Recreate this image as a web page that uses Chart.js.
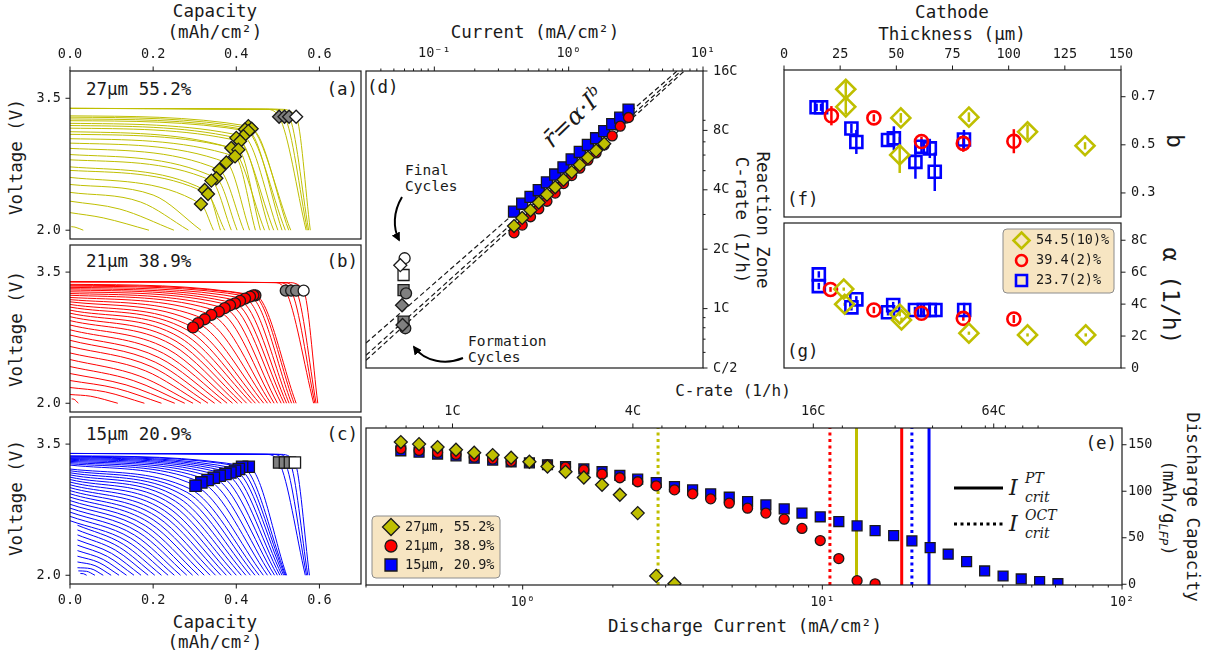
<!DOCTYPE html>
<html>
<head>
<meta charset="utf-8">
<title>Reaction zone and rate capability</title>
<script src="https://cdn.jsdelivr.net/npm/chart.js@4"></script>
<style>
  body { margin: 0; background: #fff; }
  #fig { position: relative; width: 1212px; height: 662px; overflow: hidden;
         font-family: 'DejaVu Sans Mono', monospace; color: #1a1a1a; }
  #fig canvas { position: absolute; }
  .t { position: absolute; white-space: nowrap; font-size: 17.5px; line-height: 1;
       transform: translate(-50%, -50%); }
  .l { transform: translate(0, -50%); }
  .r { transform: translate(-100%, -50%); }
  .v { transform: translate(-50%, -50%) rotate(90deg); }
  .u { transform: translate(-50%, -50%) rotate(-90deg); }
  .s { font-size: 14.5px; }
  .m { font-family: 'DejaVu Serif', serif; font-style: italic; }
  svg { position: absolute; left: 0; top: 0; z-index: 2; pointer-events: none; }
</style>
</head>
<body>
<div id="fig">
  <div class="t" style="left:215px;top:12px">Capacity</div>
  <div class="t" style="left:215px;top:33px">(mAh/cm²)</div>
  <div class="t u" style="left:17px;top:157px">Voltage (V)</div>
  <div class="t u" style="left:17px;top:329px">Voltage (V)</div>
  <div class="t u" style="left:17px;top:498px">Voltage (V)</div>
  <div class="t l" style="left:86px;top:90px">27µm 55.2%</div>
  <div class="t r" style="left:358px;top:90px">(a)</div>
  <div class="t l" style="left:86px;top:262px">21µm 38.9%</div>
  <div class="t r" style="left:358px;top:262px">(b)</div>
  <div class="t l" style="left:86px;top:435px">15µm 20.9%</div>
  <div class="t r" style="left:358px;top:435px">(c)</div>
  <div class="t" style="left:215px;top:623px">Capacity</div>
  <div class="t" style="left:215px;top:643px">(mAh/cm²)</div>

  <div class="t" style="left:535px;top:33px">Current (mA/cm²)</div>
  <div class="t l" style="left:367px;top:88px">(d)</div>
  <div class="t l s" style="left:405px;top:170px">Final</div>
  <div class="t l s" style="left:405px;top:186px">Cycles</div>
  <div class="t l s" style="left:468px;top:341px">Formation</div>
  <div class="t l s" style="left:468px;top:357px">Cycles</div>
  <div class="t v" style="left:762px;top:220px">Reaction Zone</div>
  <div class="t v" style="left:741px;top:220px">C-rate (1/h)</div>
  <div class="t m" style="left:573px;top:117px;font-size:24px;transform:translate(-50%,-50%) rotate(-44deg)">r̄=α·I<sup style="font-size:15px">b</sup></div>

  <div class="t" style="left:952px;top:13px">Cathode</div>
  <div class="t" style="left:952px;top:35px">Thickness (µm)</div>
  <div class="t v" style="left:1174px;top:141px;font-size:23px">b</div>
  <div class="t v" style="left:1170px;top:296px;font-size:23px">α (1/h)</div>
  <div class="t l" style="left:787px;top:200px">(f)</div>
  <div class="t l" style="left:787px;top:352px">(g)</div>

  <div class="t" style="left:733px;top:391px;font-size:16px">C-rate (1/h)</div>
  <div class="t" style="left:745px;top:627px">Discharge Current (mA/cm²)</div>
  <div class="t r" style="left:1117px;top:444px">(e)</div>
  <div class="t v" style="left:1192px;top:507px">Discharge Capacity</div>
  <div class="t v" style="left:1167px;top:508px">(mAh/g<sub style="font-size:12px;font-style:italic">LFP</sub>)</div>
  <div class="t l m" style="left:1009px;top:488px;font-size:22px">I</div>
  <div class="t l m" style="left:1025px;top:478px;font-size:14px">PT</div>
  <div class="t l m" style="left:1025px;top:497px;font-size:14px">crit</div>
  <div class="t l m" style="left:1009px;top:524px;font-size:22px">I</div>
  <div class="t l m" style="left:1025px;top:515px;font-size:14px">OCT</div>
  <div class="t l m" style="left:1025px;top:533px;font-size:14px">crit</div>

  <svg width="1212" height="662">
    <defs>
      <marker id="ah" viewBox="0 0 10 10" refX="8" refY="5" markerWidth="9" markerHeight="9"
              markerUnits="userSpaceOnUse" orient="auto">
        <path d="M0,0 L10,5 L0,10 z" fill="#000"/>
      </marker>
    </defs>
    <path d="M402,197 C393,212 393,228 399,240" stroke="#000" stroke-width="2" fill="none" marker-end="url(#ah)"/>
    <path d="M463,358 C446,365 425,362 414,347" stroke="#000" stroke-width="2" fill="none" marker-end="url(#ah)"/>
  </svg>
</div>

<script>
const ink = '#1a1a1a';
const olive = '#bfbf00', red = '#ff0000', blue = '#0000ff', grey = '#808080';
const tickFont = { family: 'DejaVu Sans Mono', size: 13.5 };

// ---- panels a-c: discharge curves ----
const cutoffV = 2.0;
const capTicks = [0, 0.2, 0.4, 0.6];
const voltTicks = [2.0, 3.5];

// [start capacity, start V, knee capacity, knee V, end capacity]
const cellA = [
  [0, 3.300, 0.429, 3.183, 0.531], [0, 3.285, 0.437, 3.153, 0.526], [0, 3.265, 0.421, 3.145, 0.518],
  [0, 3.245, 0.429, 3.126, 0.510], [0, 3.215, 0.417, 3.069, 0.500], [0, 3.190, 0.400, 3.050, 0.490],
  [0, 3.160, 0.409, 3.011, 0.480], [0, 3.120, 0.388, 2.935, 0.468], [0, 3.090, 0.405, 2.916, 0.458],
  [0, 3.040, 0.397, 2.839, 0.446], [0, 2.990, 0.376, 2.770, 0.432], [0, 2.930, 0.359, 2.687, 0.418],
  [0, 2.860, 0.352, 2.591, 0.402], [0, 2.800, 0.340, 2.564, 0.388], [0, 2.720, 0.324, 2.458, 0.372],
  [0, 2.680, 0.332, 2.412, 0.362], [0, 2.600, 0.315, 2.297, 0.345], [0, 2.520, 0.200, 2.400, 0.315],
  [0, 2.430, 0.170, 2.320, 0.285], [0, 2.330, 0.120, 2.240, 0.250], [0, 2.200, 0.080, 2.140, 0.190],
  [0.003, 2.040, 0.012, 2.035, 0.032]
];
const markedA = 17;

const cellB = [
  [0, 3.360, 0.446, 3.234, 0.544], [0, 3.350, 0.441, 3.234, 0.539], [0, 3.340, 0.433, 3.219, 0.533],
  [0, 3.325, 0.421, 3.197, 0.527], [0, 3.310, 0.409, 3.170, 0.521], [0, 3.295, 0.397, 3.143, 0.515],
  [0, 3.275, 0.385, 3.121, 0.508], [0, 3.255, 0.372, 3.087, 0.499], [0, 3.235, 0.358, 3.049, 0.491],
  [0, 3.210, 0.340, 3.011, 0.483], [0, 3.185, 0.324, 2.961, 0.475], [0, 3.160, 0.308, 2.916, 0.466],
  [0, 3.130, 0.296, 2.867, 0.456],
  [0, 3.100, 0.285, 2.830, 0.446], [0, 3.065, 0.275, 2.790, 0.437], [0, 3.030, 0.265, 2.750, 0.425],
  [0, 2.990, 0.255, 2.710, 0.414], [0, 2.945, 0.245, 2.670, 0.403], [0, 2.895, 0.235, 2.620, 0.391],
  [0, 2.840, 0.225, 2.570, 0.378], [0, 2.780, 0.215, 2.520, 0.364], [0, 2.720, 0.205, 2.470, 0.348],
  [0, 2.650, 0.195, 2.420, 0.332], [0, 2.575, 0.182, 2.370, 0.315], [0, 2.500, 0.168, 2.310, 0.296],
  [0, 2.420, 0.152, 2.260, 0.276], [0, 2.340, 0.135, 2.210, 0.252], [0, 2.260, 0.112, 2.170, 0.220],
  [0, 2.180, 0.085, 2.130, 0.179], [0, 2.100, 0.050, 2.080, 0.115], [0.004, 2.050, 0.010, 2.045, 0.020]
];
const markedB = 13;

const cellC = [
  [0, 3.366, 0.430, 3.241, 0.521], [0, 3.360, 0.414, 3.241, 0.519], [0, 3.352, 0.406, 3.215, 0.517],
  [0, 3.344, 0.397, 3.195, 0.514], [0, 3.335, 0.386, 3.176, 0.510], [0, 3.325, 0.374, 3.158, 0.505],
  [0, 3.314, 0.360, 3.138, 0.499], [0, 3.302, 0.346, 3.115, 0.492], [0, 3.289, 0.331, 3.089, 0.484],
  [0, 3.275, 0.316, 3.062, 0.475], [0, 3.260, 0.302, 3.024, 0.465],
  [0, 3.215, 0.290, 2.985, 0.455], [0, 3.195, 0.281, 2.950, 0.445], [0, 3.172, 0.272, 2.915, 0.434],
  [0, 3.148, 0.263, 2.880, 0.423], [0, 3.122, 0.254, 2.845, 0.412], [0, 3.095, 0.245, 2.810, 0.400],
  [0, 3.066, 0.236, 2.775, 0.388], [0, 3.035, 0.227, 2.740, 0.376], [0, 3.002, 0.218, 2.705, 0.363],
  [0, 2.968, 0.209, 2.670, 0.350], [0, 2.932, 0.200, 2.635, 0.337], [0, 2.894, 0.191, 2.600, 0.323],
  [0, 2.854, 0.182, 2.565, 0.309], [0, 2.812, 0.173, 2.530, 0.295], [0, 2.768, 0.164, 2.495, 0.281],
  [0, 2.722, 0.155, 2.460, 0.266], [0, 2.674, 0.146, 2.425, 0.251], [0, 2.624, 0.137, 2.390, 0.236],
  [0.018, 2.572, 0.128, 2.355, 0.220], [0.018, 2.518, 0.119, 2.320, 0.204], [0.018, 2.462, 0.110, 2.285, 0.188],
  [0.018, 2.404, 0.100, 2.250, 0.171], [0.018, 2.344, 0.090, 2.215, 0.154], [0.018, 2.282, 0.080, 2.180, 0.136],
  [0.018, 2.218, 0.070, 2.145, 0.118], [0.018, 2.152, 0.060, 2.110, 0.099], [0.018, 2.086, 0.050, 2.075, 0.080],
  [0.020, 2.050, 0.040, 2.045, 0.060], [0.025, 2.020, 0.032, 2.018, 0.040]
];
const markedC = 11;

// formation / final cycles: [start V, plateau end capacity, plateau end V, marker capacity, marker V, end capacity]
const formA = [
  [3.385, 0.470, 3.375, 0.503, 3.290, 0.568], [3.385, 0.480, 3.375, 0.516, 3.290, 0.571],
  [3.385, 0.490, 3.375, 0.527, 3.290, 0.574], [3.385, 0.505, 3.375, 0.544, 3.290, 0.578]
];
const formB = [
  [3.390, 0.490, 3.380, 0.519, 3.288, 0.586], [3.390, 0.500, 3.380, 0.532, 3.288, 0.589],
  [3.390, 0.510, 3.380, 0.544, 3.288, 0.592], [3.390, 0.525, 3.380, 0.562, 3.288, 0.596]
];
const formC = [
  [3.393, 0.470, 3.383, 0.503, 3.290, 0.566], [3.393, 0.485, 3.383, 0.517, 3.290, 0.569],
  [3.393, 0.495, 3.383, 0.529, 3.290, 0.572], [3.393, 0.505, 3.383, 0.541, 3.290, 0.576]
];

// ---- panel d: reaction zone rate vs current ----
const currentTicksD = [0.1, 1, 10];
const currentMinorD = [0.04, 0.05, 0.06, 0.07, 0.08, 0.09, 0.2, 0.3, 0.4, 0.5, 0.6, 0.7, 0.8, 0.9, 2, 3, 4, 5, 6, 7, 8, 9];
const rateTicksD = [0.5, 1, 2, 4, 8, 16];
const rateMinorD = [0.6, 0.7, 0.8, 0.9, 3, 5, 6, 7, 9];
const currentD = [0.392, 0.451, 0.520, 0.599, 0.689, 0.794, 0.915, 1.053, 1.21, 1.39, 1.60, 1.84, 2.11, 2.42, 2.79];
const rateBlueD = [3.10, 3.40, 3.68, 3.98, 4.36, 4.78, 5.20, 5.70, 6.22, 6.75, 7.30, 7.94, 8.60, 9.28, 10.2];
const rateRedD = [2.42, 2.65, 2.92, 3.20, 3.50, 3.85, 4.30, 4.72, 5.15, 5.65, 6.15, 6.75, 7.50, 8.40, 9.30];
const rateYellowD = [2.62, 2.88, 3.15, 3.45, 3.78, 4.12, 4.50, 4.92, 5.35, 5.82, 6.32, 6.85];
// formation (filled) and final (open) cycles, [current, rate]
const formDiamondD = [[0.0575, 1.04], [0.058, 0.826]];
const formCircleD = [[0.0616, 1.195], [0.0608, 0.795]];
const formSquareD = [[0.059, 1.24], [0.059, 0.858]];
const finalD = [[0.0558, 1.66], [0.0601, 1.80], [0.059, 1.48]];
// fitted power laws, drawn edge to edge
const fitLinesD = [
  [[0.031, 0.669], [6.41, 16]],
  [[0.031, 0.580], [6.87, 16]],
  [[0.031, 0.547], [7.26, 16]]
];

// ---- panel e: discharge capacity vs current ----
const ratePerCurrent = 1.715; // C-rate per mA/cm²
const currentRangeE = [0.3, 100];
const capRangeE = [-0.8, 168];
const currentTicksE = [1, 10, 100];
const currentMinorE = [0.3, 0.4, 0.5, 0.6, 0.7, 0.8, 0.9, 2, 3, 4, 5, 6, 7, 8, 9, 20, 30, 40, 50, 60, 70, 80, 90];
const rateTicksE = [1, 4, 16, 64];
const rateMinorE = [0.6, 0.7, 0.8, 0.9, 2, 3, 5, 6, 7, 8, 9, 20, 30, 40, 50, 60, 70, 80, 90];
const capTicksE = [0, 50, 100, 150];
const currentY = [0.392, 0.451, 0.520, 0.599, 0.689, 0.794, 0.915, 1.053, 1.21, 1.39, 1.60, 1.84, 2.11, 2.42, 2.79, 3.21];
const capY = [152.9, 150.7, 147.5, 144.6, 141.4, 138.9, 136.0, 131.7, 126.6, 120.9, 114.8, 106.9, 96.2, 76.5, 9.0, 0.5];
const currentR = [0.392, 0.451, 0.520, 0.599, 0.689, 0.794, 0.915, 1.053, 1.21, 1.39, 1.60, 1.84, 2.11, 2.42,
  2.79, 3.21, 3.69, 4.24, 4.89, 5.63, 6.48, 7.46, 8.55, 9.84, 11.35, 13.06, 15.0];
const capR = [145.7, 143.9, 141.7, 139.6, 136.7, 134.6, 132.0, 131.0, 128.5, 126.0, 123.1, 118.4, 114.5, 110.2,
  105.8, 101.5, 97.2, 91.8, 87.2, 81.8, 76.5, 70.0, 60.0, 47.0, 27.6, 3.9, 0.5];
const currentB = [0.392, 0.451, 0.520, 0.599, 0.689, 0.794, 0.915, 1.053, 1.21, 1.39, 1.60, 1.84, 2.11, 2.42,
  2.79, 3.21, 3.69, 4.24, 4.89, 5.63, 6.48, 7.46, 8.55, 9.84, 11.35, 13.06, 15.0, 17.3, 19.9, 22.9, 26.3,
  30.3, 34.8, 40.1, 46.1, 53.1, 61.1];
const capB = [143.5, 142.0, 140.0, 138.0, 135.5, 133.5, 131.5, 130.5, 128.5, 126.5, 124.0, 121.0, 117.0, 113.0,
  109.4, 105.0, 101.5, 97.2, 93.6, 89.0, 85.4, 81.0, 76.5, 72.5, 67.4, 62.8, 57.7, 52.3, 46.6, 39.4, 32.3,
  24.3, 14.3, 8.9, 5.7, 2.8, 0.6];
// critical currents for 27, 21, 15 µm cells
const critPT = [13.0, 18.4, 22.7];
const critOCT = [2.83, 10.6, 19.9];
const legendE = ['27µm, 55.2%', '21µm, 38.9%', '15µm, 20.9%'];

// ---- panels f, g: fit parameters vs cathode thickness ----
const thickTicks = [0, 25, 50, 75, 100, 125, 150];
const bTicks = [0.3, 0.5, 0.7];
const alphaTicks = [0, 2, 4, 6, 8];
const thickYF = [27.5, 27.5, 52.0, 51.5, 82.3, 108.4, 134.0];
const bYF = [0.731, 0.658, 0.612, 0.458, 0.615, 0.554, 0.496];
const errYF = [0.03, 0.03, 0.02, 0.075, 0.02, 0.03, 0.015];
const thickRF = [21.1, 40.0, 61.2, 79.8, 102.3];
const bRF = [0.621, 0.612, 0.514, 0.506, 0.515];
const errRF = [0.04, 0.015, 0.02, 0.035, 0.05];
const thickBF = [14.5, 16.5, 30.0, 32.2, 46.3, 48.9, 58.5, 61.2, 64.9, 67.1, 80.1];
const bBF = [0.656, 0.656, 0.568, 0.512, 0.520, 0.527, 0.429, 0.492, 0.485, 0.388, 0.522];
const errBF = [0.015, 0.015, 0.02, 0.05, 0.02, 0.05, 0.07, 0.03, 0.04, 0.08, 0.04];
const thickYG = [26.6, 27.0, 51.5, 52.3, 82.3, 108.4, 134.3];
const aYG = [4.94, 3.99, 3.38, 3.01, 2.18, 2.07, 2.07];
const errYG = [0.1, 0.1, 0.15, 0.15, 0.1, 0.1, 0.1];
const thickRG = [20.7, 40.0, 61.2, 79.8, 102.3];
const aRG = [4.92, 3.63, 3.43, 3.11, 3.07];
const errRG = [0.15, 0.2, 0.15, 0.15, 0.25];
const thickBG = [15.5, 15.5, 30.0, 32.2, 46.3, 48.6, 58.3, 62.2, 64.9, 67.4, 80.2];
const aBG = [5.86, 5.13, 3.80, 4.30, 3.49, 3.94, 3.63, 3.63, 3.63, 3.63, 3.63];
const errBG = [0.2, 0.2, 0.2, 0.2, 0.2, 0.2, 0.2, 0.2, 0.2, 0.2, 0.45];
const legendG = ['54.5(10)%', '39.4(2)%', '23.7(2)%'];

// ---------- helpers ----------
const sideIndex = { left: 0, top: 1, right: 2, bottom: 3 };

function axis(o) {
  const s = {
    type: o.type || 'linear', position: o.pos, min: o.min, max: o.max, bounds: 'data',
    display: !!o.ticks,
    grid: { display: false, drawTicks: false },
    border: { display: false },
    ticks: { padding: o.pad || 8, font: tickFont, color: ink, autoSkip: false, maxRotation: 0,
             callback: o.fmt || (v => v) }
  };
  if (o.ticks) s.afterBuildTicks = sc => { sc.ticks = o.ticks.map(v => ({ value: v })); };
  return s;
}

function drawTicks(chart, marks) {
  const ctx = chart.ctx, a = chart.chartArea;
  ctx.strokeStyle = ink;
  ctx.lineWidth = 1;
  marks.forEach(([id, side, major, minor]) => {
    const s = chart.scales[id];
    const one = (v, len) => {
      const p = s.getPixelForValue(v);
      ctx.beginPath();
      if (side === 'top') { ctx.moveTo(p, a.top); ctx.lineTo(p, a.top - len); }
      else if (side === 'bottom') { ctx.moveTo(p, a.bottom); ctx.lineTo(p, a.bottom + len); }
      else if (side === 'left') { ctx.moveTo(a.left, p); ctx.lineTo(a.left - len, p); }
      else { ctx.moveTo(a.right, p); ctx.lineTo(a.right + len, p); }
      ctx.stroke();
    };
    major.forEach(v => one(v, 4.5));
    (minor || []).forEach(v => one(v, 2.5));
  });
}

const errorBars = {
  id: 'errorBars',
  beforeDatasetsDraw(chart) {
    const { ctx, chartArea: a } = chart;
    const x = chart.scales.x, y = chart.scales.y;
    ctx.save();
    ctx.beginPath();
    ctx.rect(a.left, a.top, a.right - a.left, a.bottom - a.top);
    ctx.clip();
    chart.data.datasets.forEach(ds => {
      if (!ds.errors) return;
      ctx.strokeStyle = ds.pointBorderColor;
      ctx.lineWidth = 2.5;
      ds.data.forEach((p, i) => {
        const px = x.getPixelForValue(p.x);
        ctx.beginPath();
        ctx.moveTo(px, y.getPixelForValue(p.y - ds.errors[i]));
        ctx.lineTo(px, y.getPixelForValue(p.y + ds.errors[i]));
        ctx.stroke();
      });
    });
    ctx.restore();
  }
};

function glyph(ctx, style, x, y, r, fill, stroke, lw) {
  ctx.beginPath();
  if (style === 'diamond') {
    ctx.moveTo(x, y - r); ctx.lineTo(x + r, y); ctx.lineTo(x, y + r); ctx.lineTo(x - r, y); ctx.closePath();
  } else if (style === 'circle') {
    ctx.arc(x, y, r, 0, Math.PI * 2);
  } else {
    ctx.rect(x - r, y - r, 2 * r, 2 * r);
  }
  if (fill) { ctx.fillStyle = fill; ctx.fill(); }
  ctx.lineWidth = lw;
  ctx.strokeStyle = stroke;
  ctx.stroke();
}

function legendPanel(ctx, o, box, items) {
  const x = box[0] - o[0], y = box[1] - o[1];
  ctx.beginPath();
  ctx.roundRect(x, y, box[2], box[3], 4);
  ctx.fillStyle = 'rgba(245,222,179,0.8)';
  ctx.fill();
  ctx.strokeStyle = '#8c8c8c';
  ctx.lineWidth = 1;
  ctx.stroke();
  items.forEach(it => {
    glyph(ctx, it.style, it.mx - o[0], it.y - o[1], it.r, it.fill, it.stroke, it.lw);
    ctx.font = '13.5px "DejaVu Sans Mono"';
    ctx.textBaseline = 'middle';
    ctx.textAlign = 'left';
    ctx.fillStyle = ink;
    ctx.fillText(it.label, it.tx - o[0], it.y - o[1]);
  });
}

// box = [left, top, right, bottom] of the plot frame on the page, m = canvas margins [l, t, r, b]
function panel(box, m, cfg) {
  const [l, t, r, b] = box;
  const c = document.createElement('canvas');
  c.width = r - l + m[0] + m[2];
  c.height = b - t + m[1] + m[3];
  c.style.left = (l - m[0]) + 'px';
  c.style.top = (t - m[1]) + 'px';
  document.getElementById('fig').appendChild(c);
  const origin = [l - m[0], t - m[1]];

  const padding = { left: m[0], top: m[1], right: m[2], bottom: m[3] };
  Object.values(cfg.scales).forEach(s => {
    if (!s.display) return;
    const size = m[sideIndex[s.position]];
    padding[s.position] = 0;
    s.afterFit = sc => { if (sc.isHorizontal()) sc.height = size; else sc.width = size; };
  });

  return new Chart(c, {
    type: 'scatter',
    data: { datasets: cfg.datasets },
    options: {
      responsive: false, animation: false, devicePixelRatio: 1, events: [],
      layout: { padding },
      scales: cfg.scales,
      plugins: { legend: { display: false }, tooltip: { enabled: false } }
    },
    plugins: [errorBars, {
      id: 'frame',
      afterDraw(chart) {
        const ctx = chart.ctx, a = chart.chartArea;
        ctx.save();
        ctx.strokeStyle = ink;
        ctx.lineWidth = 1.2;
        ctx.strokeRect(a.left, a.top, a.right - a.left, a.bottom - a.top);
        drawTicks(chart, cfg.marks);
        if (cfg.extra) cfg.extra(ctx, origin);
        ctx.restore();
      }
    }]
  });
}

function pts(xs, ys) { return xs.map((x, i) => ({ x, y: ys[i] })); }

function markerSet(data, style, r, fill, opts) {
  return Object.assign({
    data, pointStyle: style, pointRadius: r, pointBackgroundColor: fill,
    pointBorderColor: ink, pointBorderWidth: 1.3, showLine: false, clip: 0
  }, opts || {});
}

function hollowSet(data, style, r, color, errors) {
  return {
    data, errors, pointStyle: style, pointRadius: r, pointBackgroundColor: 'rgba(0,0,0,0)',
    pointBorderColor: color, pointBorderWidth: 2.6, showLine: false, clip: 0
  };
}

function lineSet(data, color, width, dash) {
  return { data, showLine: true, borderColor: color, borderWidth: width, borderDash: dash || [],
           pointRadius: 0, clip: 0 };
}

function dischargeSets(rows, formRows, marked, color, style, r) {
  const curves = rows.map(q => ({
    data: [{ x: q[0], y: q[1] }, { x: q[2], y: q[3] }, { x: q[4], y: cutoffV }],
    showLine: true, borderColor: color, borderWidth: 1, pointRadius: 0,
    cubicInterpolationMode: 'monotone', clip: 0
  }));
  const forms = formRows.map(f => ({
    data: [{ x: 0, y: f[0] }, { x: f[1], y: f[2] }, { x: f[3], y: f[4] }, { x: f[5], y: cutoffV }],
    showLine: true, borderColor: color, borderWidth: 1, pointRadius: 0,
    cubicInterpolationMode: 'monotone', clip: 0
  }));
  const knees = markerSet(rows.slice(0, marked).map(q => ({ x: q[2], y: q[3] })), style, r, color);
  const formMarks = markerSet(formRows.map(f => ({ x: f[3], y: f[4] })), style, r,
    formRows.map((f, i) => i === formRows.length - 1 ? '#ffffff' : grey));
  return [knees, formMarks, ...forms, ...curves];
}

const fmt1 = v => v.toFixed(1);
const capScale = o => axis(Object.assign({ min: 0, max: 0.7 }, o));
const voltScale = () => axis({ pos: 'left', min: 1.9, max: 3.81, ticks: voltTicks, fmt: fmt1, pad: 9 });

// ---------- a, b, c ----------
panel([70, 71, 361, 239], [55, 40, 25, 25], {
  scales: { x: capScale({ pos: 'top', ticks: capTicks, fmt: fmt1, pad: 8 }), y: voltScale() },
  datasets: dischargeSets(cellA, formA, markedA, olive, 'rectRot', 6.5),
  marks: [['x', 'top', capTicks], ['y', 'left', voltTicks]]
});

panel([70, 245, 361, 412], [55, 25, 25, 25], {
  scales: { x: capScale({ pos: 'bottom' }), y: voltScale() },
  datasets: dischargeSets(cellB, formB, markedB, red, 'circle', 5.5),
  marks: [['y', 'left', voltTicks]]
});

panel([70, 417, 361, 584], [55, 25, 25, 40], {
  scales: { x: capScale({ pos: 'bottom', ticks: capTicks, fmt: fmt1, pad: 8.5 }), y: voltScale() },
  datasets: dischargeSets(cellC, formC, markedC, blue, 'rect', 8),
  marks: [['x', 'bottom', capTicks], ['y', 'left', voltTicks]]
});

// ---------- d ----------
const pow10 = v => ({ 0.1: '10⁻¹', 1: '10⁰', 10: '10¹', 100: '10²' })[v];
const cLabel = v => v === 0.5 ? 'C/2' : v + 'C';
const asPts = list => list.map(p => ({ x: p[0], y: p[1] }));

panel([366, 71, 703, 368], [25, 40, 60, 25], {
  scales: {
    x: axis({ type: 'logarithmic', pos: 'top', min: 0.031, max: 10, ticks: currentTicksD, fmt: pow10, pad: 9.5 }),
    y: axis({ type: 'logarithmic', pos: 'right', min: 0.5, max: 16, ticks: rateTicksD, fmt: cLabel, pad: 10 })
  },
  datasets: [
    markerSet(pts(currentD.slice(0, rateYellowD.length), rateYellowD), 'rectRot', 6.5, olive),
    markerSet(pts(currentD, rateRedD), 'circle', 5, red),
    markerSet(pts(currentD, rateBlueD), 'rect', 7.8, blue),
    markerSet(asPts([finalD[0]]), 'rectRot', 6.5, '#ffffff'),
    markerSet(asPts([finalD[1]]), 'circle', 5.5, '#ffffff'),
    markerSet(asPts([finalD[2]]), 'rect', 7.8, '#ffffff'),
    markerSet(asPts(formDiamondD), 'rectRot', 6.5, grey),
    markerSet(asPts(formCircleD), 'circle', 5.5, grey),
    markerSet(asPts(formSquareD), 'rect', 7.8, grey),
    ...fitLinesD.map(f => lineSet(asPts(f), ink, 1.2, [5, 3]))
  ],
  marks: [['x', 'top', currentTicksD, currentMinorD], ['y', 'right', rateTicksD, rateMinorD]]
});

// ---------- e ----------
const critColors = [olive, red, blue];
panel([366, 428, 1122, 585], [25, 40, 50, 40], {
  scales: {
    x: axis({ type: 'logarithmic', pos: 'bottom', min: currentRangeE[0], max: currentRangeE[1],
              ticks: currentTicksE, fmt: pow10, pad: 9 }),
    x2: axis({ type: 'logarithmic', pos: 'top', min: currentRangeE[0] * ratePerCurrent,
               max: currentRangeE[1] * ratePerCurrent, ticks: rateTicksE, fmt: v => v + 'C', pad: 8 }),
    y: axis({ pos: 'right', min: capRangeE[0], max: capRangeE[1], ticks: capTicksE, pad: 6 })
  },
  datasets: [
    markerSet(pts(currentY, capY), 'rectRot', 6.5, olive),
    markerSet(pts(currentR, capR), 'circle', 5, red),
    markerSet(pts(currentB, capB), 'rect', 7, blue),
    ...critPT.map((v, i) => lineSet([{ x: v, y: capRangeE[0] }, { x: v, y: capRangeE[1] }], critColors[i], 3)),
    ...critOCT.map((v, i) => lineSet([{ x: v, y: capRangeE[0] }, { x: v, y: capRangeE[1] }], critColors[i], 3, [3, 3.5]))
  ],
  marks: [['x', 'bottom', currentTicksE, currentMinorE], ['x2', 'top', rateTicksE, rateMinorE],
          ['y', 'right', capTicksE]],
  extra(ctx, o) {
    legendPanel(ctx, o, [372, 516, 128, 62], [
      { style: 'diamond', mx: 391, y: 527, r: 8.5, fill: olive, stroke: ink, lw: 1.3, tx: 405, label: legendE[0] },
      { style: 'circle', mx: 391, y: 546, r: 6, fill: red, stroke: ink, lw: 1.3, tx: 405, label: legendE[1] },
      { style: 'rect', mx: 391, y: 565, r: 6, fill: blue, stroke: ink, lw: 1.3, tx: 405, label: legendE[2] }
    ]);
    ctx.strokeStyle = '#000';
    ctx.lineWidth = 3;
    ctx.beginPath(); ctx.moveTo(954 - o[0], 488 - o[1]); ctx.lineTo(1003 - o[0], 488 - o[1]); ctx.stroke();
    ctx.setLineDash([3, 3.5]);
    ctx.beginPath(); ctx.moveTo(954 - o[0], 524 - o[1]); ctx.lineTo(1003 - o[0], 524 - o[1]); ctx.stroke();
    ctx.setLineDash([]);
  }
});

// ---------- f, g ----------
panel([784, 70, 1121, 217], [25, 40, 50, 25], {
  scales: {
    x: axis({ pos: 'top', min: 0, max: 150, ticks: thickTicks, pad: 7 }),
    y: axis({ pos: 'right', min: 0.2, max: 0.811, ticks: bTicks, fmt: fmt1, pad: 10 })
  },
  datasets: [
    hollowSet(pts(thickYF, bYF), 'rectRot', 9.5, olive, errYF),
    hollowSet(pts(thickRF, bRF), 'circle', 6.5, red, errRF),
    hollowSet(pts(thickBF, bBF), 'rect', 8.5, blue, errBF)
  ],
  marks: [['x', 'top', thickTicks], ['y', 'right', bTicks]]
});

panel([784, 223, 1121, 368], [25, 25, 50, 25], {
  scales: {
    x: axis({ pos: 'bottom', min: 0, max: 150 }),
    y: axis({ pos: 'right', min: 0, max: 9.08, ticks: alphaTicks, fmt: v => v === 0 ? '0' : v + 'C', pad: 10 })
  },
  datasets: [
    hollowSet(pts(thickYG, aYG), 'rectRot', 9.5, olive, errYG),
    hollowSet(pts(thickRG, aRG), 'circle', 6.5, red, errRG),
    hollowSet(pts(thickBG, aBG), 'rect', 8.5, blue, errBG)
  ],
  marks: [['y', 'right', alphaTicks]],
  extra(ctx, o) {
    legendPanel(ctx, o, [1003, 229, 111, 64], [
      { style: 'diamond', mx: 1021.5, y: 240.5, r: 8, stroke: olive, lw: 2.6, tx: 1036, label: legendG[0] },
      { style: 'circle', mx: 1021.5, y: 260.5, r: 5.5, stroke: red, lw: 2.6, tx: 1036, label: legendG[1] },
      { style: 'rect', mx: 1021.5, y: 280.5, r: 5.5, stroke: blue, lw: 2.6, tx: 1036, label: legendG[2] }
    ]);
  }
});
</script>
</body>
</html>
